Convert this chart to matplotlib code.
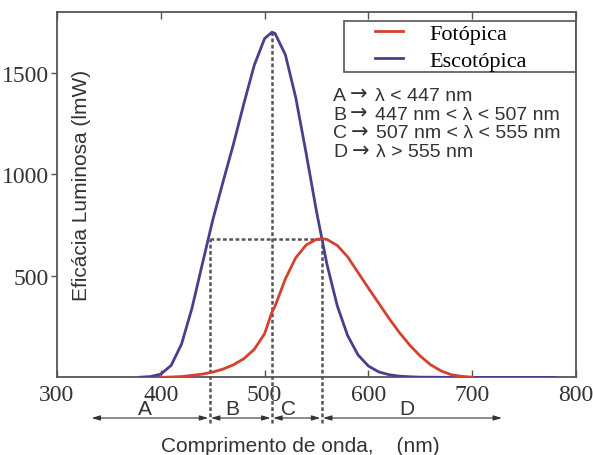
import matplotlib
matplotlib.use('Agg')
import matplotlib.pyplot as plt
from matplotlib.patches import Rectangle

# scotopic (escotópica) efficacy, lm/W
wl_esc = [380, 390, 400, 410, 420, 430, 440, 450, 460, 470, 480, 490, 500, 507,
          510, 520, 530, 540, 550, 560, 570, 580, 590, 600, 610, 620, 630, 640,
          650, 660, 680, 700, 740, 780]
esc = [1, 4, 16, 59, 164, 340, 558, 774, 964, 1149, 1348, 1537, 1669, 1700,
       1695, 1590, 1379, 1105, 818, 559, 353, 206, 111, 56, 27, 13, 6, 3,
       1, 1, 0, 0, 0, 0]

# photopic (fotópica) efficacy, lm/W
wl_fot = [400, 420, 440, 450, 460, 470, 480, 490, 500, 507, 510, 520, 530, 540,
          550, 555, 560, 570, 580, 590, 600, 610, 620, 630, 640, 650, 660, 670,
          680, 690, 700]
fot = [0, 4, 16, 26, 41, 62, 92, 138, 215, 320, 350, 485, 589, 652,
       680, 683, 680, 650, 594, 517, 440, 365, 290, 220, 158, 105, 62, 32,
       13, 5, 1]

# region limits and labels
bounds = [332, 447, 507, 555, 730]
regions = ['A', 'B', 'C', 'D']
region_x = [385, 469, 523, 637]
cross_y = 683
peak_x, peak_y = 507, 1700

note_keys = ['A', 'B', 'C', 'D']
note_vals = ['\u03bb < 447 nm',
             '447 nm < \u03bb < 507 nm',
             '507 nm < \u03bb < 555 nm',
             '\u03bb > 555 nm']

serif = ['Liberation Serif', 'DejaVu Serif']
sans = ['Liberation Sans', 'DejaVu Sans']
red = '#d6402f'
blue = '#4a3f8e'
grey = '#555555'
ink = '#333333'

fig = plt.figure(figsize=(5.93, 4.56), dpi=100)
ax = fig.add_axes([0.0961, 0.1702, 0.8752, 0.8013])

ax.plot(wl_esc, esc, color=blue, lw=2, zorder=3)
ax.plot(wl_fot, fot, color=red, lw=2, zorder=4)

# dotted guide lines
dots = dict(color=grey, lw=1.8, dashes=(1.5, 1), clip_on=False, zorder=2)
ax.plot([447, 447], [-225, cross_y], **dots)
ax.plot([peak_x, peak_x], [-225, peak_y], **dots)
ax.plot([555, 555], [-225, cross_y], **dots)
ax.plot([447, 555], [cross_y, cross_y], **dots)

ax.set_xlim(300, 800)
ax.set_ylim(0, 1800)
ax.set_xticks([300, 400, 500, 600, 700, 800])
ax.set_yticks([500, 1000, 1500])
ax.tick_params(axis='x', direction='in', top=True, length=5, width=1, color=grey, pad=5, labelsize=17)
ax.tick_params(axis='y', direction='out', length=4, width=1, color=grey, pad=2, labelsize=17)
for lab in ax.get_xticklabels() + ax.get_yticklabels():
    lab.set_family(serif)
    lab.set_color(ink)
for sp in ax.spines.values():
    sp.set_color(grey)
    sp.set_linewidth(1.3)

# region arrows and letters under the axis
for i in range(4):
    ax.annotate('', xy=(bounds[i], -200), xytext=(bounds[i + 1], -200),
                annotation_clip=False,
                arrowprops=dict(arrowstyle='<|-|>,head_length=0.5,head_width=0.15',
                                color=ink, lw=0.8, shrinkA=1, shrinkB=1))
    ax.text(region_x[i], -153, regions[i], ha='center', va='center', fontsize=15,
            family=sans, color=ink, clip_on=False)

# range notes: letter, arrow (DejaVu has the wider arrow glyph), condition
for i in range(4):
    y = 1432 - i * 93
    t1 = ax.text(566, y, note_keys[i], ha='left', va='top', fontsize=14,
                 family=sans, color=ink)
    t2 = ax.annotate('\u2192', xy=(1, 0), xycoords=t1, xytext=(3, 0),
                     textcoords='offset points', ha='left', va='bottom',
                     fontsize=15, family=['DejaVu Sans'], color=ink)
    ax.annotate(note_vals[i], xy=(1, 0), xycoords=t2, xytext=(5, 0),
                textcoords='offset points', ha='left', va='bottom',
                fontsize=14, family=sans, color=ink)

ax.text(324, 951, 'Eficácia Luminosa (lmW)', rotation=90, ha='center', va='center',
        fontsize=15, family=sans, color=ink)
fig.text(0.506, 0.02, 'Comprimento de onda,    (nm)', ha='center', va='center',
         fontsize=15, family=sans, color=ink)

# legend: frame drawn separately so the handles sit indented as in the figure
ax.add_patch(Rectangle((0.553, 0.836), 0.447, 0.139, transform=ax.transAxes,
                       fill=False, ec=grey, lw=1.2, zorder=5))
ax.legend(ax.lines[1::-1], ['Fotópica', 'Escotópica'], loc='upper left',
          bbox_to_anchor=(0.613, 0.97), frameon=False, borderpad=0, borderaxespad=0,
          handlelength=1.25, handletextpad=1.2, labelspacing=0.32,
          prop=dict(family=serif, size=16))

fig.savefig('out.png', dpi=100, facecolor='white')
